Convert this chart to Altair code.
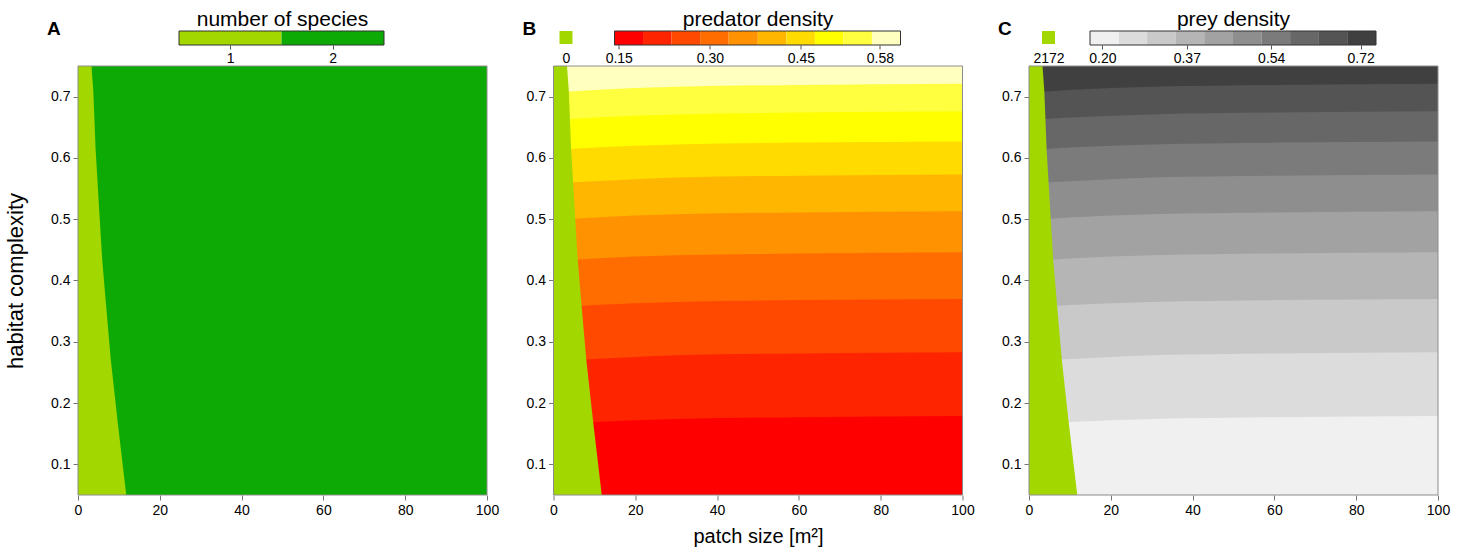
import altair as alt
import pandas as pd

FONT = "Liberation Sans"

# ---------------- data ----------------
PATCH_SIZE = [0, 10, 30, 60, 100]          # x samples of the contour lines
X_DOMAIN = [0, 100]
Y_DOMAIN = [0.05, 0.75]
X_TICKS = [0, 20, 40, 60, 80, 100]
Y_TICKS = [0.1, 0.2, 0.3, 0.4, 0.5, 0.6, 0.7]

# contour lines (habitat complexity at PATCH_SIZE), from bottom to top
LEVEL_1 = [0.165, 0.169, 0.174, 0.177, 0.179]
LEVEL_2 = [0.269, 0.272, 0.278, 0.281, 0.283]
LEVEL_3 = [0.356, 0.360, 0.365, 0.368, 0.370]
LEVEL_4 = [0.432, 0.436, 0.441, 0.444, 0.446]
LEVEL_5 = [0.499, 0.503, 0.508, 0.511, 0.513]
LEVEL_6 = [0.559, 0.562, 0.568, 0.571, 0.573]
LEVEL_7 = [0.613, 0.617, 0.622, 0.625, 0.627]
LEVEL_8 = [0.662, 0.666, 0.671, 0.674, 0.676]
LEVEL_9 = [0.707, 0.711, 0.716, 0.719, 0.721]

# edge of the one-species region (patch size at given habitat complexity)
EDGE_COMPLEXITY = [0.05, 0.169, 0.272, 0.361, 0.436, 0.502, 0.615, 0.709, 0.75]
EDGE_PATCH = [11.8, 9.7, 8.0, 6.85, 5.9, 5.3, 4.3, 3.75, 3.3]

SPECIES = [1, 2]
SPECIES_EDGES = [0.5, 1.5, 2.5]
SPECIES_COLORS = ["#A2D700", "#0DAA06"]

PRED_EDGES = [0.143, 0.190, 0.237, 0.284, 0.331, 0.379, 0.426, 0.473, 0.520, 0.567, 0.614]
PRED_TICKS = [0.15, 0.30, 0.45, 0.58]
PRED_COLORS = ["#FF0000", "#FF2400", "#FF4900", "#FF6D00", "#FF9200",
               "#FFB600", "#FFDB00", "#FFFF00", "#FFFF40", "#FFFFBF"]

PREY_EDGES = [0.175, 0.233, 0.290, 0.348, 0.405, 0.463, 0.521, 0.578, 0.636, 0.693, 0.751]
PREY_TICKS = [0.20, 0.37, 0.54, 0.72]
PREY_COLORS = ["#F0F0F0", "#DCDCDC", "#C9C9C9", "#B5B5B5", "#A2A2A2",
               "#8E8E8E", "#7B7B7B", "#676767", "#545454", "#404040"]

PRED_ONE_SPECIES_LABEL = "0"
PREY_ONE_SPECIES_LABEL = "2172"

LEVELS = [LEVEL_1, LEVEL_2, LEVEL_3, LEVEL_4, LEVEL_5, LEVEL_6, LEVEL_7, LEVEL_8, LEVEL_9]

# ---------------- styling ----------------
W, H = 409, 429
TICK_COLOR = "#777777"
FRAME_COLOR = "#8C8C8C"

XS = alt.Scale(domain=X_DOMAIN, nice=False, zero=False)
YS = alt.Scale(domain=Y_DOMAIN, nice=False, zero=False)
LEG_YS = alt.Scale(domain=[0, 1], nice=False, zero=False)


def x_axis(title):
    return alt.Axis(values=X_TICKS, title=title, tickSize=5, tickColor=TICK_COLOR,
                    domain=False, grid=False, labelFontSize=14, labelFont=FONT,
                    labelColor="black", labelPadding=3, labelFlush=False,
                    titleFont=FONT, titleFontSize=20, titleFontWeight="normal",
                    titleColor="black", titlePadding=9)


def y_axis(title):
    return alt.Axis(values=Y_TICKS, format=".1f", title=title, tickSize=5,
                    tickColor=TICK_COLOR, domain=False, grid=False, labelFontSize=14,
                    labelFont=FONT, labelColor="black", labelPadding=3, labelFlush=False,
                    titleFont=FONT, titleFontSize=22, titleFontWeight="normal",
                    titleColor="black", titlePadding=23)


def one_species_layer(xt, yt):
    df = pd.DataFrame({"complexity": EDGE_COMPLEXITY, "edge": EDGE_PATCH,
                       "base": [X_DOMAIN[0]] * len(EDGE_PATCH)})
    return alt.Chart(df).mark_area(orient="horizontal", color=SPECIES_COLORS[0], clip=True).encode(
        y=alt.Y("complexity:Q", scale=YS, axis=y_axis(yt)),
        x=alt.X("edge:Q", scale=XS, axis=x_axis(xt)),
        x2="base:Q",
    )


def frame_layer(xt, yt):
    df = pd.DataFrame({"x0": [X_DOMAIN[0]], "x1": [X_DOMAIN[1]],
                       "y0": [Y_DOMAIN[0]], "y1": [Y_DOMAIN[1]]})
    return alt.Chart(df).mark_rect(fillOpacity=0, stroke=FRAME_COLOR, strokeWidth=1).encode(
        x=alt.X("x0:Q", scale=XS, axis=x_axis(xt)), x2="x1:Q",
        y=alt.Y("y0:Q", scale=YS, axis=y_axis(yt)), y2="y1:Q",
    )


def letter_title(letter):
    return alt.TitleParams(text=letter, anchor="start", frame="group", dx=-31, offset=27,
                           fontSize=19, fontWeight="bold", font=FONT, color="black")


def main_species(letter, xt, yt):
    df = pd.DataFrame({"x": X_DOMAIN, "top": [Y_DOMAIN[1]] * 2, "bottom": [Y_DOMAIN[0]] * 2})
    both = alt.Chart(df).mark_area(color=SPECIES_COLORS[1], clip=True).encode(
        x=alt.X("x:Q", scale=XS, axis=x_axis(xt)),
        y=alt.Y("top:Q", scale=YS, axis=y_axis(yt)),
        y2="bottom:Q",
    )
    return alt.layer(both, one_species_layer(xt, yt), frame_layer(xt, yt)).properties(
        width=W, height=H, title=letter_title(letter))


def main_contour(colors, letter, xt, yt):
    tops = LEVELS + [[Y_DOMAIN[1]] * len(PATCH_SIZE)]
    layers = []
    for k in range(len(colors) - 1, -1, -1):
        df = pd.DataFrame({"x": PATCH_SIZE, "top": tops[k],
                           "bottom": [Y_DOMAIN[0]] * len(PATCH_SIZE)})
        layers.append(alt.Chart(df).mark_area(color=colors[k], interpolate="monotone", clip=True).encode(
            x=alt.X("x:Q", scale=XS, axis=x_axis(xt)),
            y=alt.Y("top:Q", scale=YS, axis=y_axis(yt)),
            y2="bottom:Q",
        ))
    layers.append(one_species_layer(xt, yt))
    layers.append(frame_layer(xt, yt))
    return alt.layer(*layers).properties(width=W, height=H, title=letter_title(letter))


def legend(edges, colors, ticks, fmt, title, bar_range, square_label=None, square_range=None):
    sc = alt.Scale(domain=[edges[0], edges[-1]], range=bar_range, nice=False, zero=False)
    ax = alt.Axis(values=ticks, format=fmt, orient="bottom", domain=False, grid=False,
                  tickSize=4, tickColor="#555555", labelFontSize=14, labelFont=FONT,
                  labelColor="black", labelPadding=2, labelFlush=False, title=None)
    n = len(colors)
    bar_df = pd.DataFrame({"lo": edges[:-1], "hi": edges[1:], "color": colors,
                           "b": [0] * n, "t": [1] * n})
    bars = alt.Chart(bar_df).mark_rect(strokeWidth=0).encode(
        x=alt.X("lo:Q", scale=sc, axis=ax), x2="hi:Q",
        y=alt.Y("b:Q", scale=LEG_YS, axis=None), y2="t:Q",
        color=alt.Color("color:N", scale=None))
    frame_df = pd.DataFrame({"lo": [edges[0]], "hi": [edges[-1]], "b": [0], "t": [1]})
    frame_ax = ax if square_label is None else None
    frame = alt.Chart(frame_df).mark_rect(fillOpacity=0, stroke="#333333", strokeWidth=1).encode(
        x=alt.X("lo:Q", scale=sc, axis=frame_ax), x2="hi:Q",
        y=alt.Y("b:Q", scale=LEG_YS, axis=None), y2="t:Q")
    layers = [bars, frame]
    if square_label is not None:
        sq_sc = alt.Scale(domain=[0, 1], range=square_range, nice=False, zero=False)
        sq_ax = alt.Axis(values=[0.5], labelExpr=f"'{square_label}'", orient="bottom",
                         domain=False, grid=False, ticks=False, labelFontSize=14,
                         labelFont=FONT, labelColor="black", labelPadding=6,
                         labelFlush=False, title=None)
        sq_df = pd.DataFrame({"lo": [0], "hi": [1], "b": [0.07], "t": [1]})
        layers.append(alt.Chart(sq_df).mark_rect(color=SPECIES_COLORS[0]).encode(
            x=alt.X("lo:Q", scale=sq_sc, axis=sq_ax), x2="hi:Q",
            y=alt.Y("b:Q", scale=LEG_YS, axis=None), y2="t:Q"))
    ch = alt.layer(*layers)
    if square_label is not None:
        ch = ch.resolve_scale(x="independent").resolve_axis(x="independent")
    return ch.properties(
        width=W, height=14,
        view=alt.ViewBackground(strokeOpacity=0),
        title=alt.TitleParams(text=title, anchor="middle", frame="group", offset=1,
                              fontSize=21, fontWeight="normal", font=FONT, color="black"))


panel_a = alt.vconcat(
    legend(SPECIES_EDGES, SPECIES_COLORS, SPECIES, "d", "number of species", [101, 306]),
    main_species("A", None, "habitat complexity"),
    spacing=21, bounds="flush")

panel_b = alt.vconcat(
    legend(PRED_EDGES, PRED_COLORS, PRED_TICKS, ".2f", "predator density", [61, 347],
           PRED_ONE_SPECIES_LABEL, [6, 19]),
    main_contour(PRED_COLORS, "B", "patch size [m²]", None),
    spacing=21, bounds="flush")

panel_c = alt.vconcat(
    legend(PREY_EDGES, PREY_COLORS, PREY_TICKS, ".2f", "prey density", [61, 347],
           PREY_ONE_SPECIES_LABEL, [13, 26]),
    main_contour(PREY_COLORS, "C", None, None),
    spacing=21, bounds="flush")

chart = alt.hconcat(panel_a, panel_b, panel_c, spacing=23.5).properties(
    padding={"left": 4, "top": 8, "right": 10, "bottom": 5},
    background="white",
).configure(font=FONT).configure_view(stroke="transparent", strokeWidth=0)

chart.save("out.html", embed_options={"renderer": "svg", "actions": False})
